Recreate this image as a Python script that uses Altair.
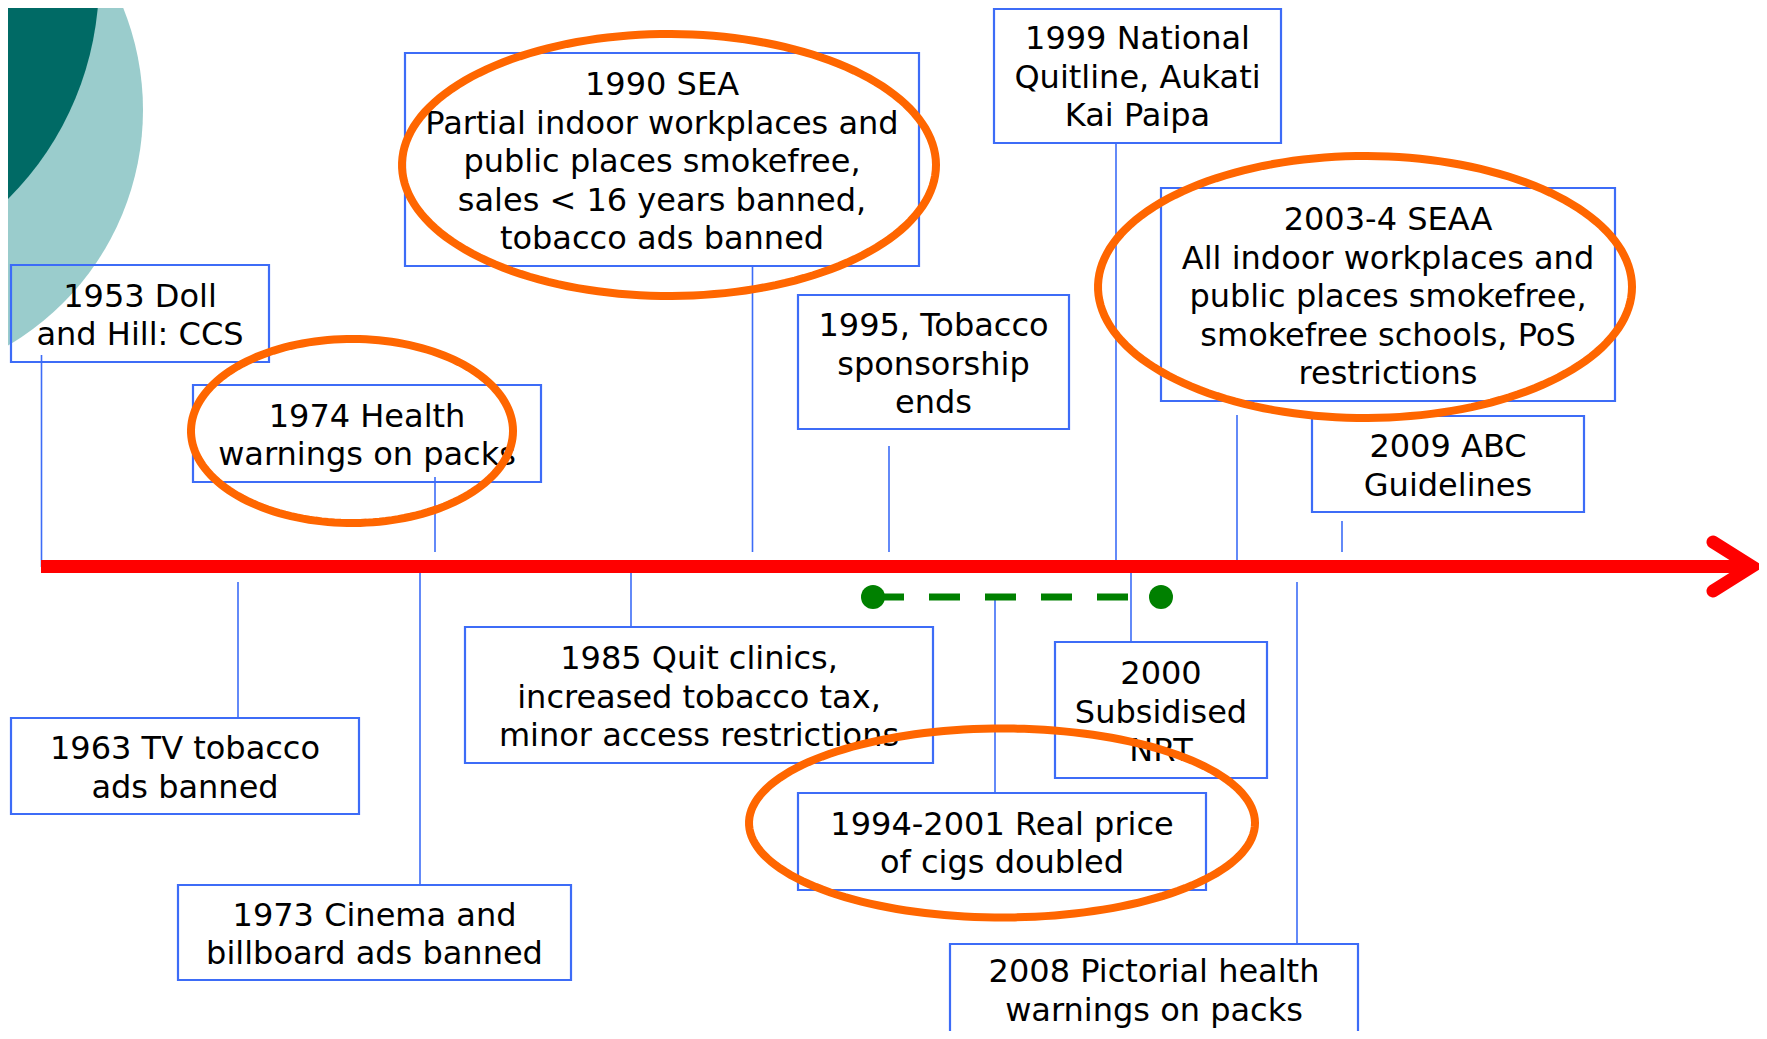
import altair as alt
import pandas as pd

# ---------------- data (events on the timeline) ----------------
event_year = ["1953", "1974", "1990", "1995", "1999", "2003-4", "2009",
              "1963", "1973", "1985", "2000", "1994-2001", "2008"]
event_text = [
    "1953 Doll\nand Hill: CCS",
    "1974 Health\nwarnings on packs",
    "1990 SEA\nPartial indoor workplaces and\npublic places smokefree,\nsales < 16 years banned,\ntobacco ads banned",
    "1995, Tobacco\nsponsorship\nends",
    "1999 National\nQuitline, Aukati\nKai Paipa",
    "2003-4 SEAA\nAll indoor workplaces and\npublic places smokefree,\nsmokefree schools, PoS\nrestrictions",
    "2009 ABC\nGuidelines",
    "1963 TV tobacco\nads banned",
    "1973 Cinema and\nbillboard ads banned",
    "1985 Quit clinics,\nincreased tobacco tax,\nminor access restrictions",
    "2000\nSubsidised\nNRT",
    "1994-2001 Real price\nof cigs doubled",
    "2008 Pictorial health\nwarnings on packs",
]
highlighted = ["1990", "1974", "2003-4", "1994-2001"]
price_period = ["1994", "2001"]

# ---------------- layout (pixel positions, kept separate) ----------------
box_x1 = [11, 193, 405, 798, 994, 1161, 1312, 11, 178, 465, 1055, 798, 950]
box_x2 = [269, 541, 919, 1069, 1281, 1615, 1584, 359, 571, 933, 1267, 1206, 1358]
box_y1 = [265, 385, 53, 295, 9, 188, 416, 718, 885, 627, 642, 793, 944]
box_y2 = [362, 482, 266, 429, 143, 401, 512, 814, 980, 763, 778, 890, 1045]
text_cy = [313.5, 433.5, 159.5, 362, 75, 294.5, 464, 766, 932.5, 695, 710, 841.5, 989]
conn_x = [41.5, 435, 752.5, 889, 1116, 1237, 1342, 238, 420, 631, 1131, 995, 1297]
conn_y1 = [355, 477, 266, 446, 143, 415, 521, 582, 567, 567, 567, 597, 582]
conn_y2 = [567, 552, 552, 552, 567, 567, 552, 718, 885, 627, 642, 793, 944]

ell_cx = [669, 352, 1365, 1002]
ell_cy = [165, 431, 287, 823]
ell_rx = [267, 161, 267, 253]
ell_ry = [131, 92, 131, 94.5]

axis_x1, axis_x2, axis_y = 41, 1752, 566.5
arrow_x = [1713, 1752, 1713]
arrow_y = [542, 566.5, 591]
dash_x1, dash_x2, dash_y = 873, 1161, 597

deco_x = [-130, -210]
deco_y = [110, -20]
deco_d = [546, 618]
deco_c = ["#9ACCCC", "#006A65"]

BLUE = "#3D6CF7"
FONT = "DejaVu Sans"
FS = 32
LH = 38.5
TEXT_SHIFT = 2.5

W, H = 1751, 1023
xs = alt.Scale(domain=[8, 8 + W], nice=False, zero=False)
ys = alt.Scale(domain=[8, 8 + H], nice=False, zero=False, reverse=True)

def X(f):
    return alt.X(f, type="quantitative", scale=xs, axis=None)

def Y(f):
    return alt.Y(f, type="quantitative", scale=ys, axis=None)

boxes = pd.DataFrame({"year": event_year, "text": event_text,
                      "x1": box_x1, "x2": box_x2, "y1": box_y1, "y2": box_y2,
                      "cy": text_cy})
boxes["cx"] = (boxes.x1 + boxes.x2) / 2
boxes["nlines"] = boxes.text.str.count("\n") + 1
boxes["ty"] = boxes.cy - (boxes.nlines - 1) * LH / 2 + TEXT_SHIFT
conns = pd.DataFrame({"year": event_year, "x": conn_x, "y1": conn_y1, "y2": conn_y2})
ells = pd.DataFrame({"id": highlighted, "cx": ell_cx, "cy": ell_cy, "rx": ell_rx, "ry": ell_ry})
deco = pd.DataFrame({"x": deco_x, "y": deco_y, "size": [d * d for d in deco_d], "c": deco_c})
axis_df = pd.DataFrame({"x1": [axis_x1], "x2": [axis_x2], "y": [axis_y]})
arrow_df = pd.DataFrame({"x": arrow_x, "y": arrow_y, "o": [0, 1, 2]})
dash_df = pd.DataFrame({"year": price_period, "x": [dash_x1, dash_x2], "y": [dash_y, dash_y]})

teal = alt.Chart(deco).mark_point(filled=True, shape="circle", opacity=1, clip=True).encode(
    x=X("x"), y=Y("y"),
    size=alt.Size("size:Q", scale=None, legend=None),
    color=alt.Color("c:N", scale=None, legend=None),
)

rects = alt.Chart(boxes).mark_rect(fillOpacity=0, stroke=BLUE, strokeWidth=2.2, clip=True).encode(
    x=X("x1"), x2="x2", y=Y("y1"), y2="y2"
)

connectors = alt.Chart(conns).mark_rule(color=BLUE, strokeWidth=1.6, clip=True).encode(
    x=X("x"), y=Y("y1"), y2="y2"
)

red_axis = alt.Chart(axis_df).mark_rule(color="#FF0000", strokeWidth=13, clip=True).encode(
    x=X("x1"), x2="x2", y=Y("y")
)

arrow = alt.Chart(arrow_df).mark_line(color="#FF0000", strokeWidth=13, strokeCap="round",
                                      strokeJoin="miter", clip=True).encode(
    x=X("x"), y=Y("y"), order="o:Q"
)

dash = alt.Chart(dash_df).mark_line(color="#008000", strokeWidth=7, strokeDash=[31, 25], clip=True).encode(
    x=X("x"), y=Y("y")
)
dots = alt.Chart(dash_df).mark_point(filled=True, shape="circle", color="#008000", opacity=1,
                                     size=576, clip=True).encode(
    x=X("x"), y=Y("y")
)

texts = alt.Chart(boxes).mark_text(font=FONT, fontSize=FS, lineHeight=LH, lineBreak="\n",
                                   align="center", baseline="middle", color="#000000", clip=True).encode(
    x=X("cx"), y=Y("ty"), text="text:N"
)

ellipses = alt.Chart(ells).transform_calculate(
    t="sequence(0, 6.36, 0.04)"
).transform_flatten(["t"]).transform_calculate(
    ex="datum.cx + datum.rx * cos(datum.t)",
    ey="datum.cy + datum.ry * sin(datum.t)",
).mark_line(color="#FF6600", strokeWidth=8, clip=True).encode(
    x=X("ex"), y=Y("ey"), detail="id:N", order="t:Q"
)

chart = alt.layer(
    teal, rects, connectors, red_axis, arrow, dash, dots, texts, ellipses
).properties(
    width=W, height=H, padding=0, autosize=alt.AutoSizeParams(type="none"),
    background="white",
).configure_view(stroke=None)

chart.save("out.html", embed_options={"renderer": "svg", "actions": False})
